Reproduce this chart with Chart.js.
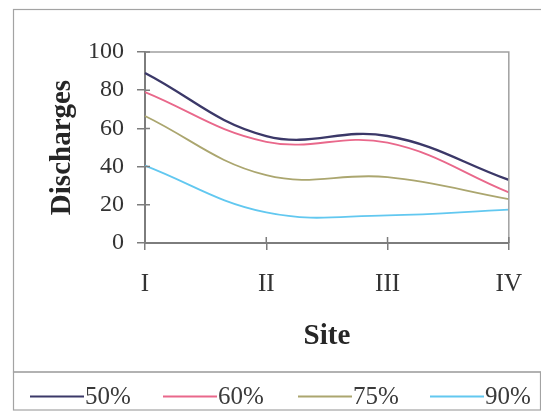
<!DOCTYPE html>
<html>
<head>
<meta charset="utf-8">
<script src="https://cdn.jsdelivr.net/npm/chart.js@4/dist/chart.umd.min.js"></script>
<style>
  html, body { margin: 0; padding: 0; background: #ffffff; }
  #wrap { width: 541px; height: 414px; position: relative; }
</style>
</head>
<body>
<div id="wrap"><canvas id="c" width="541" height="414"></canvas></div>
<script>
// Sites along the river and discharge at each exceedance level
const sites = ['I', 'II', 'III', 'IV'];
const seriesNames = ['50%', '60%', '75%', '90%'];
const q50 = [89, 56, 56, 33];
const q60 = [79, 53, 52.5, 26.5];
const q75 = [66.5, 35.5, 34.5, 23];
const q90 = [40.5, 16, 14.5, 17.5];
const yMin = 0, yMax = 100, yStep = 20;

const seriesColors = ['#3b3868', '#e9688b', '#aba66f', '#62c8f0'];
const seriesValues = [q50, q60, q75, q90];

const serif = "'Liberation Serif', 'Times New Roman', serif";
const axisGrey = '#7d7d7d';

// Frames around the plot panel and the legend, the plot border,
// the inner half of each axis tick, and the boxed key row.
const framePlugin = {
  id: 'frames',
  beforeDraw(chart) {
    const ctx = chart.ctx;
    ctx.save();
    ctx.strokeStyle = '#a3a3a3';
    ctx.lineWidth = 1.2;
    ctx.strokeRect(13.5, 9.5, 540, 362.5);
    ctx.strokeRect(13.5, 372, 527, 38);
    ctx.restore();
  },
  afterDatasetsDraw(chart) {
    const ctx = chart.ctx;
    const a = chart.chartArea;
    ctx.save();
    ctx.strokeStyle = '#a0a0a0';
    ctx.lineWidth = 1.5;
    ctx.beginPath();
    ctx.moveTo(a.left, a.top);
    ctx.lineTo(a.right, a.top);
    ctx.lineTo(a.right, a.bottom);
    ctx.stroke();
    ctx.strokeStyle = axisGrey;
    ctx.beginPath();
    const ys = chart.scales.y;
    ys.ticks.forEach(t => {
      const py = ys.getPixelForValue(t.value);
      ctx.moveTo(a.left, py);
      ctx.lineTo(a.left + 5, py);
    });
    const xs = chart.scales.x;
    sites.forEach((s, i) => {
      const px = xs.getPixelForValue(i);
      ctx.moveTo(px, a.bottom);
      ctx.lineTo(px, a.bottom - 6);
    });
    ctx.stroke();

    // key: a line sample running straight into each series name
    const keyX = [30, 163, 298, 430];
    const keyY = 396.5;
    ctx.font = '25px ' + serif;
    ctx.textBaseline = 'middle';
    ctx.textAlign = 'left';
    chart.data.datasets.forEach((ds, i) => {
      ctx.strokeStyle = ds.borderColor;
      ctx.lineWidth = 2;
      ctx.beginPath();
      ctx.moveTo(keyX[i], keyY);
      ctx.lineTo(keyX[i] + 54, keyY);
      ctx.stroke();
      ctx.fillStyle = '#3a3a3a';
      ctx.fillText(ds.label, keyX[i] + 55, keyY + 1);
    });
    ctx.restore();
  }
};

new Chart(document.getElementById('c'), {
  type: 'line',
  data: {
    labels: sites,
    datasets: seriesValues.map((vals, i) => ({
      label: seriesNames[i],
      data: vals,
      borderColor: seriesColors[i],
      backgroundColor: seriesColors[i],
      borderWidth: i === 0 ? 2.4 : 1.8,
      pointRadius: 0,
      tension: 0.4,
      fill: false
    }))
  },
  options: {
    responsive: false,
    animation: false,
    devicePixelRatio: 1,
    layout: { padding: { left: 13, right: 31, top: 52, bottom: 54 } },
    plugins: {
      tooltip: { enabled: false },
      legend: { display: false }
    },
    scales: {
      x: {
        type: 'category',
        offset: false,
        afterFit(scale) { scale.height = 117; },
        grid: { display: true, drawOnChartArea: false, drawTicks: true, tickLength: 7, color: axisGrey, lineWidth: 1.5 },
        border: { display: true, color: axisGrey, width: 2 },
        ticks: { color: '#333333', padding: 19, font: { family: serif, size: 25 }, maxRotation: 0, autoSkip: false },
        title: { display: true, text: 'Site', color: '#262626', padding: { top: 6, bottom: 6 }, font: { family: serif, size: 29, weight: 'bold' } }
      },
      y: {
        min: yMin,
        max: yMax,
        afterFit(scale) { scale.width = 132; },
        grid: { display: true, drawOnChartArea: false, drawTicks: true, tickLength: 8, color: axisGrey, lineWidth: 1.5 },
        border: { display: true, color: axisGrey, width: 2 },
        ticks: { stepSize: yStep, autoSkip: false, color: '#333333', padding: 13, font: { family: serif, size: 24 } },
        title: { display: true, text: 'Discharges', color: '#262626', padding: { top: 32, bottom: 32 }, font: { family: serif, size: 29, weight: 'bold' } }
      }
    }
  },
  plugins: [framePlugin]
});
</script>
</body>
</html>
